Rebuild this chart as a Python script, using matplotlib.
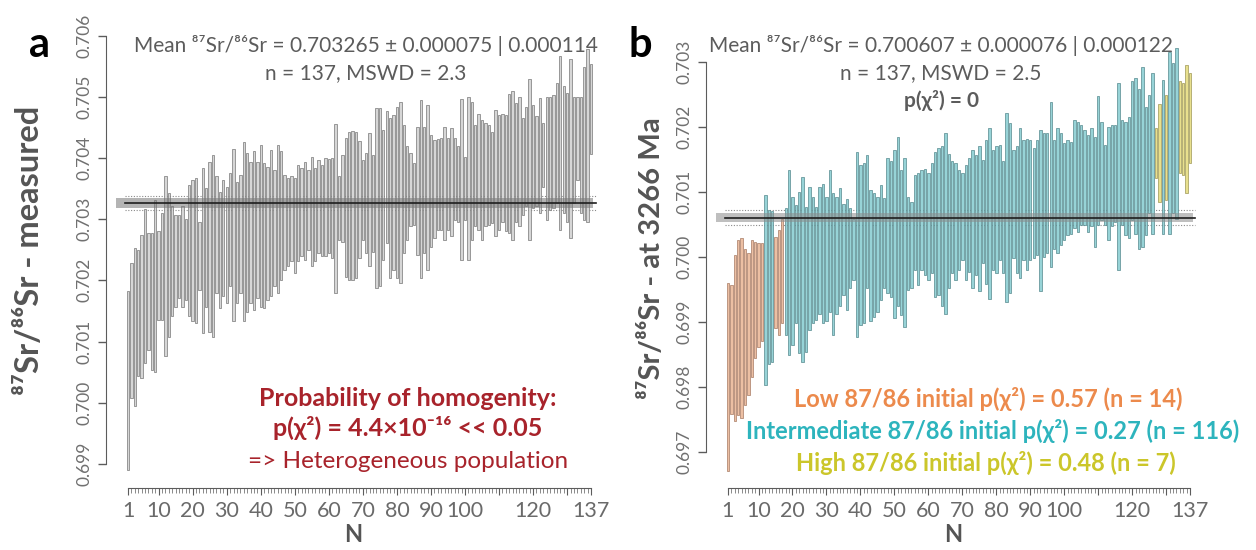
import numpy as np
import matplotlib
matplotlib.use("Agg")
import matplotlib.pyplot as plt

plt.rcParams['font.family'] = ['Lato', 'DejaVu Sans']

# analysis number, 1..137
n_idx = np.arange(1, 138)

# panel a: measured 87Sr/86Sr, upper and lower ends of each 2s box
a_top = [0.70183, 0.70229, 0.70253, 0.70249, 0.70274, 0.70316, 0.70278, 0.70277, 0.70332, 0.70280,
         0.70310, 0.70371, 0.70342, 0.70322, 0.70307, 0.70306, 0.70321, 0.70300, 0.70355, 0.70364,
         0.70367, 0.70296, 0.70384, 0.70351, 0.70393, 0.70404, 0.70370, 0.70345, 0.70364, 0.70353,
         0.70375, 0.70414, 0.70361, 0.70372, 0.70426, 0.70408, 0.70394, 0.70411, 0.70394, 0.70421,
         0.70391, 0.70386, 0.70413, 0.70381, 0.70421, 0.70411, 0.70372, 0.70367, 0.70370, 0.70367,
         0.70389, 0.70383, 0.70394, 0.70381, 0.70402, 0.70383, 0.70397, 0.70389, 0.70400, 0.70398,
         0.70400, 0.70456, 0.70371, 0.70405, 0.70432, 0.70442, 0.70444, 0.70442,
         0.70427, 0.70397, 0.70408, 0.70440, 0.70405, 0.70481, 0.70481, 0.70446, 0.70476, 0.70465,
         0.70470, 0.70484, 0.70492, 0.70454, 0.70419, 0.70408, 0.70391, 0.70451, 0.70494, 0.70451,
         0.70487, 0.70438, 0.70430, 0.70431, 0.70432, 0.70450, 0.70432, 0.70449, 0.70432, 0.70419,
         0.70496, 0.70402, 0.70499, 0.70492, 0.70454, 0.70472, 0.70462, 0.70457, 0.70454, 0.70443,
         0.70479, 0.70470, 0.70472, 0.70470, 0.70505, 0.70509, 0.70490, 0.70499, 0.70465, 0.70484,
         0.70529, 0.70487, 0.70468, 0.70498, 0.70457, 0.70499, 0.70499, 0.70503, 0.70522, 0.70567,
         0.70517, 0.70506, 0.70561, 0.70499, 0.70499, 0.70500, 0.70549, 0.70578, 0.70554]
a_bot = [0.69890, 0.70007, 0.69994, 0.70043, 0.70041, 0.70065, 0.70086, 0.70054, 0.70051, 0.70135,
         0.70135, 0.70077, 0.70108, 0.70141, 0.70157, 0.70171, 0.70157, 0.70168, 0.70141, 0.70133,
         0.70130, 0.70184, 0.70114, 0.70157, 0.70116, 0.70108, 0.70179, 0.70155, 0.70174, 0.70163,
         0.70190, 0.70133, 0.70163, 0.70179, 0.70133, 0.70149, 0.70163, 0.70152, 0.70171, 0.70157,
         0.70155, 0.70168, 0.70174, 0.70190, 0.70179, 0.70201, 0.70217, 0.70223, 0.70231, 0.70212,
         0.70231, 0.70239, 0.70233, 0.70250, 0.70223, 0.70231, 0.70244, 0.70239, 0.70239, 0.70244,
         0.70236, 0.70179, 0.70266, 0.70263, 0.70206, 0.70201, 0.70201, 0.70204,
         0.70236, 0.70266, 0.70244, 0.70223, 0.70247, 0.70187, 0.70190, 0.70234, 0.70261, 0.70204,
         0.70217, 0.70204, 0.70195, 0.70244, 0.70266, 0.70288, 0.70291, 0.70242, 0.70204, 0.70244,
         0.70217, 0.70255, 0.70269, 0.70283, 0.70283, 0.70266, 0.70283, 0.70272, 0.70299, 0.70296,
         0.70234, 0.70299, 0.70234, 0.70266, 0.70288, 0.70283, 0.70266, 0.70288, 0.70291, 0.70293,
         0.70272, 0.70283, 0.70296, 0.70280, 0.70277, 0.70266, 0.70296, 0.70288, 0.70307, 0.70321,
         0.70266, 0.70318, 0.70321, 0.70310, 0.70353, 0.70299, 0.70315, 0.70318, 0.70326, 0.70283,
         0.70310, 0.70296, 0.70269, 0.70326, 0.70364, 0.70310, 0.70299, 0.70296, 0.70407]

# panel b: 87Sr/86Sr back-calculated to 3266 Ma
b_top = [0.69960, 0.69957, 0.70003, 0.70026, 0.70029, 0.70013, 0.70006, 0.70026, 0.70023, 0.70022,
         0.70021, 0.70095, 0.70072, 0.70070, 0.70031, 0.70041, 0.70058,
         0.70075, 0.70134, 0.70093, 0.70080, 0.70100, 0.70123, 0.70077, 0.70108, 0.70093, 0.70077,
         0.70108, 0.70113, 0.70093, 0.70134, 0.70098, 0.70093, 0.70106, 0.70082, 0.70089, 0.70075,
         0.70059, 0.70162, 0.70141, 0.70144, 0.70157, 0.70103, 0.70098, 0.70093, 0.70111, 0.70090,
         0.70152, 0.70147, 0.70165, 0.70185, 0.70134, 0.70152, 0.70093, 0.70085, 0.70126, 0.70129,
         0.70134, 0.70136, 0.70129, 0.70144, 0.70162, 0.70167, 0.70171, 0.70190, 0.70159, 0.70147,
         0.70144, 0.70134, 0.70129, 0.70141, 0.70152, 0.70165, 0.70157, 0.70170, 0.70149, 0.70180,
         0.70198, 0.70165, 0.70170, 0.70172, 0.70147, 0.70221, 0.70206, 0.70165, 0.70170, 0.70198,
         0.70180, 0.70182, 0.70180, 0.70167, 0.70180, 0.70195, 0.70190, 0.70190, 0.70239, 0.70180,
         0.70198, 0.70190, 0.70175, 0.70180, 0.70177, 0.70211, 0.70208, 0.70203, 0.70195, 0.70188,
         0.70198, 0.70185, 0.70247, 0.70208, 0.70172, 0.70200, 0.70203, 0.70203, 0.70267, 0.70211,
         0.70208, 0.70216, 0.70270, 0.70275, 0.70259, 0.70293, 0.70231, 0.70249, 0.70283, 0.70198,
         0.70235, 0.70272, 0.70249, 0.70315, 0.70298, 0.70321, 0.70270, 0.70267, 0.70295, 0.70283]
b_bot = [0.69670, 0.69759, 0.69747, 0.69757, 0.69752, 0.69772, 0.69788, 0.69816, 0.69844, 0.69862,
         0.69870, 0.69803, 0.69836, 0.69839, 0.69890, 0.69880, 0.69898,
         0.69880, 0.69849, 0.69865, 0.69898, 0.69852, 0.69839, 0.69854, 0.69887, 0.69898, 0.69903,
         0.69913, 0.69898, 0.69901, 0.69916, 0.69880, 0.69913, 0.69924, 0.69942, 0.69918, 0.69952,
         0.69965, 0.69877, 0.69895, 0.69898, 0.69952, 0.69901, 0.69908, 0.69916, 0.69934, 0.69952,
         0.69944, 0.69939, 0.69906, 0.69924, 0.69911, 0.69893, 0.69949, 0.69952, 0.69980, 0.69957,
         0.69980, 0.69972, 0.69965, 0.69975, 0.69939, 0.69942, 0.69924, 0.69913, 0.69952, 0.69975,
         0.69965, 0.69980, 0.69995, 0.69965, 0.69977, 0.69952, 0.69972, 0.69947, 0.69990, 0.69959,
         0.69936, 0.69980, 0.69975, 0.69995, 0.69975, 0.69931, 0.69944, 0.69998, 0.69975, 0.69967,
         0.69995, 0.69980, 0.69995, 0.69998, 0.70003, 0.69947, 0.70000, 0.70006, 0.69985, 0.70013,
         0.70006, 0.70018, 0.70026, 0.70034, 0.70036, 0.70044, 0.70039, 0.70049, 0.70049, 0.70039,
         0.70047, 0.70016, 0.70049, 0.70057, 0.70049, 0.70026, 0.70047, 0.70054, 0.69980, 0.70049,
         0.70034, 0.70029, 0.70057, 0.70036, 0.70013, 0.70016, 0.70034, 0.70067, 0.70036, 0.70121,
         0.70085, 0.70036, 0.70088, 0.70036, 0.70067, 0.70059, 0.70129, 0.70126, 0.70099, 0.70145]

# initial-ratio group of every analysis in panel b
b_group = (["low"] * 11 + ["mid"] * 3 + ["low"] * 3 + ["mid"] * 109 +
           ["high"] * 2 + ["mid"] + ["high"] + ["mid"] * 3 + ["high"] * 4)

# weighted means: value, 2s internal, 2s with overdispersion
a_mean, a_err, a_err2 = 0.703265, 0.000075, 0.000114
b_mean, b_err, b_err2 = 0.700607, 0.000076, 0.000122

a_yticks = [0.699, 0.700, 0.701, 0.702, 0.703, 0.704, 0.705, 0.706]
b_yticks = [0.697, 0.698, 0.699, 0.700, 0.701, 0.702, 0.703]
x_major = [1, 10, 20, 30, 40, 50, 60, 70, 80, 90, 100, 110, 120, 130, 137]
x_labels = ["1", "10", "20", "30", "40", "50", "60", "70", "80", "90", "100", "", "120", "", "137"]

fill = {"low": "#ecbfa3", "mid": "#97d3d7", "high": "#e8e08e"}
edge = {"low": "#a67a63", "mid": "#55898d", "high": "#9d9655"}

GRAY = "#5c5c5c"
W, H = 1256, 550


def fx(px):
    return px / W


def fy(py):
    return 1 - py / H


def style_axis(ax, yticks):
    for s in ["top", "right"]:
        ax.spines[s].set_visible(False)
    ax.spines["left"].set_bounds(yticks[0], yticks[-1])
    ax.spines["left"].set_color(GRAY)
    ax.spines["bottom"].set_position(("outward", 9))
    ax.spines["bottom"].set_bounds(1, 137)
    ax.spines["bottom"].set_color(GRAY)
    ax.set_yticks(yticks)
    ax.set_yticklabels(["%.3f" % v for v in yticks], rotation=90, va="center",
                       fontsize=12.5, color="#707070")
    ax.tick_params(axis="y", length=6, width=1, color=GRAY, pad=4)
    ax.set_xticks(x_major)
    ax.set_xticklabels(x_labels, fontsize=15.5, color="#6a6a6a")
    ax.set_xticks(n_idx, minor=True)
    ax.tick_params(axis="x", which="major", length=5, width=0.8, color=GRAY, pad=5)
    ax.tick_params(axis="x", which="minor", length=3.5, width=0.5, color=GRAY)
    ax.set_xlabel("N", fontsize=17, fontweight="bold", color="#555555", labelpad=1)


def mean_band(ax, m, e1, e2, shade):
    ax.axhspan(m - e1, m + e1, xmin=0.02, xmax=0.985, color=shade, alpha=0.55, lw=0, zorder=3)
    for v in (m - e2, m + e2):
        ax.plot([0, 138.5], [v, v], ls=(0, (1, 1.5)), color="#8a8a8a", lw=0.8, zorder=1)
    ax.plot([0, 138.5], [m, m], color="#1e1e1e", lw=1.2, zorder=4)


fig = plt.figure(figsize=(W / 100, H / 100), dpi=100)

# ---- panel a
ax1 = fig.add_axes([fx(106), fy(475), fx(600 - 106), (475 - 25) / H])
a_top = np.array(a_top)
a_bot = np.array(a_bot)
ax1.bar(n_idx, a_top - a_bot, bottom=a_bot, width=0.7, color="#d6d6d6",
        edgecolor="#777777", linewidth=0.5, zorder=2)
mean_band(ax1, a_mean, a_err, a_err2, "#777777")
ax1.set_xlim(-5.46, 139.66)
ax1.set_ylim(0.69882, 0.706172)
style_axis(ax1, a_yticks)

fig.text(fx(366), fy(46), "Mean \u2078\u2077Sr/\u2078\u2076Sr = %.6f \u00b1 %.6f | %.6f" % (a_mean, a_err, a_err2),
         ha="center", va="center", fontsize=15, color=GRAY)
fig.text(fx(366), fy(73), "n = 137, MSWD = 2.3", ha="center", va="center", fontsize=15, color=GRAY)

red = "#a8232b"
fig.text(fx(408), fy(398), "Probability of homogenity:", ha="center", va="center",
         fontsize=18, fontweight="bold", color=red)
fig.text(fx(408), fy(428), "p(\u03c7\u00b2) = 4.4\u00d710\u207b\u00b9\u2076 << 0.05", ha="center", va="center",
         fontsize=18, fontweight="bold", color=red)
fig.text(fx(408), fy(461), "=> Heterogeneous population", ha="center", va="center",
         fontsize=17.5, color=red)

fig.text(fx(40), fy(45), "a", ha="center", va="center", fontsize=30, fontweight="bold", color="black")
fig.text(fx(30), fy(250), "\u2078\u2077Sr/\u2078\u2076Sr - measured", ha="center", va="center",
         rotation=90, fontsize=23.5, fontweight="bold", color="#555555")

# ---- panel b
ax2 = fig.add_axes([fx(706), fy(475), fx(1200 - 706), (475 - 40) / H])
b_top = np.array(b_top)
b_bot = np.array(b_bot)
ax2.bar(n_idx, b_top - b_bot, bottom=b_bot, width=0.7,
        color=[fill[g] for g in b_group], edgecolor=[edge[g] for g in b_group],
        linewidth=0.5, zorder=2)
mean_band(ax2, b_mean, b_err, b_err2, "#8c8c8c")
ax2.set_xlim(-5.46, 139.95)
ax2.set_ylim(0.696646, 0.703338)
style_axis(ax2, b_yticks)

fig.text(fx(941), fy(46), "Mean \u2078\u2077Sr/\u2078\u2076Sr = %.6f \u00b1 %.6f | %.6f" % (b_mean, b_err, b_err2),
         ha="center", va="center", fontsize=15, color=GRAY)
fig.text(fx(941), fy(73), "n = 137, MSWD = 2.5", ha="center", va="center", fontsize=15, color=GRAY)
fig.text(fx(941), fy(100), "p(\u03c7\u00b2) = 0", ha="center", va="center", fontsize=15,
         fontweight="bold", color=GRAY)

fig.text(fx(988), fy(399), "Low 87/86 initial p(\u03c7\u00b2) = 0.57 (n = 14)", ha="center", va="center",
         fontsize=17, fontweight="bold", color="#ec8a4c")
fig.text(fx(993), fy(431), "Intermediate 87/86 initial p(\u03c7\u00b2) = 0.27 (n = 116)", ha="center",
         va="center", fontsize=17, fontweight="bold", color="#2db4bd")
fig.text(fx(986), fy(463), "High 87/86 initial p(\u03c7\u00b2) = 0.48 (n = 7)", ha="center", va="center",
         fontsize=17, fontweight="bold", color="#cbc62a")

fig.text(fx(640), fy(45), "b", ha="center", va="center", fontsize=30, fontweight="bold", color="black")
fig.text(fx(652), fy(258), "\u2078\u2077Sr/\u2078\u2076Sr - at 3266 Ma", ha="center", va="center",
         rotation=90, fontsize=21, fontweight="bold", color="#555555")

fig.savefig("out.png", dpi=100)
